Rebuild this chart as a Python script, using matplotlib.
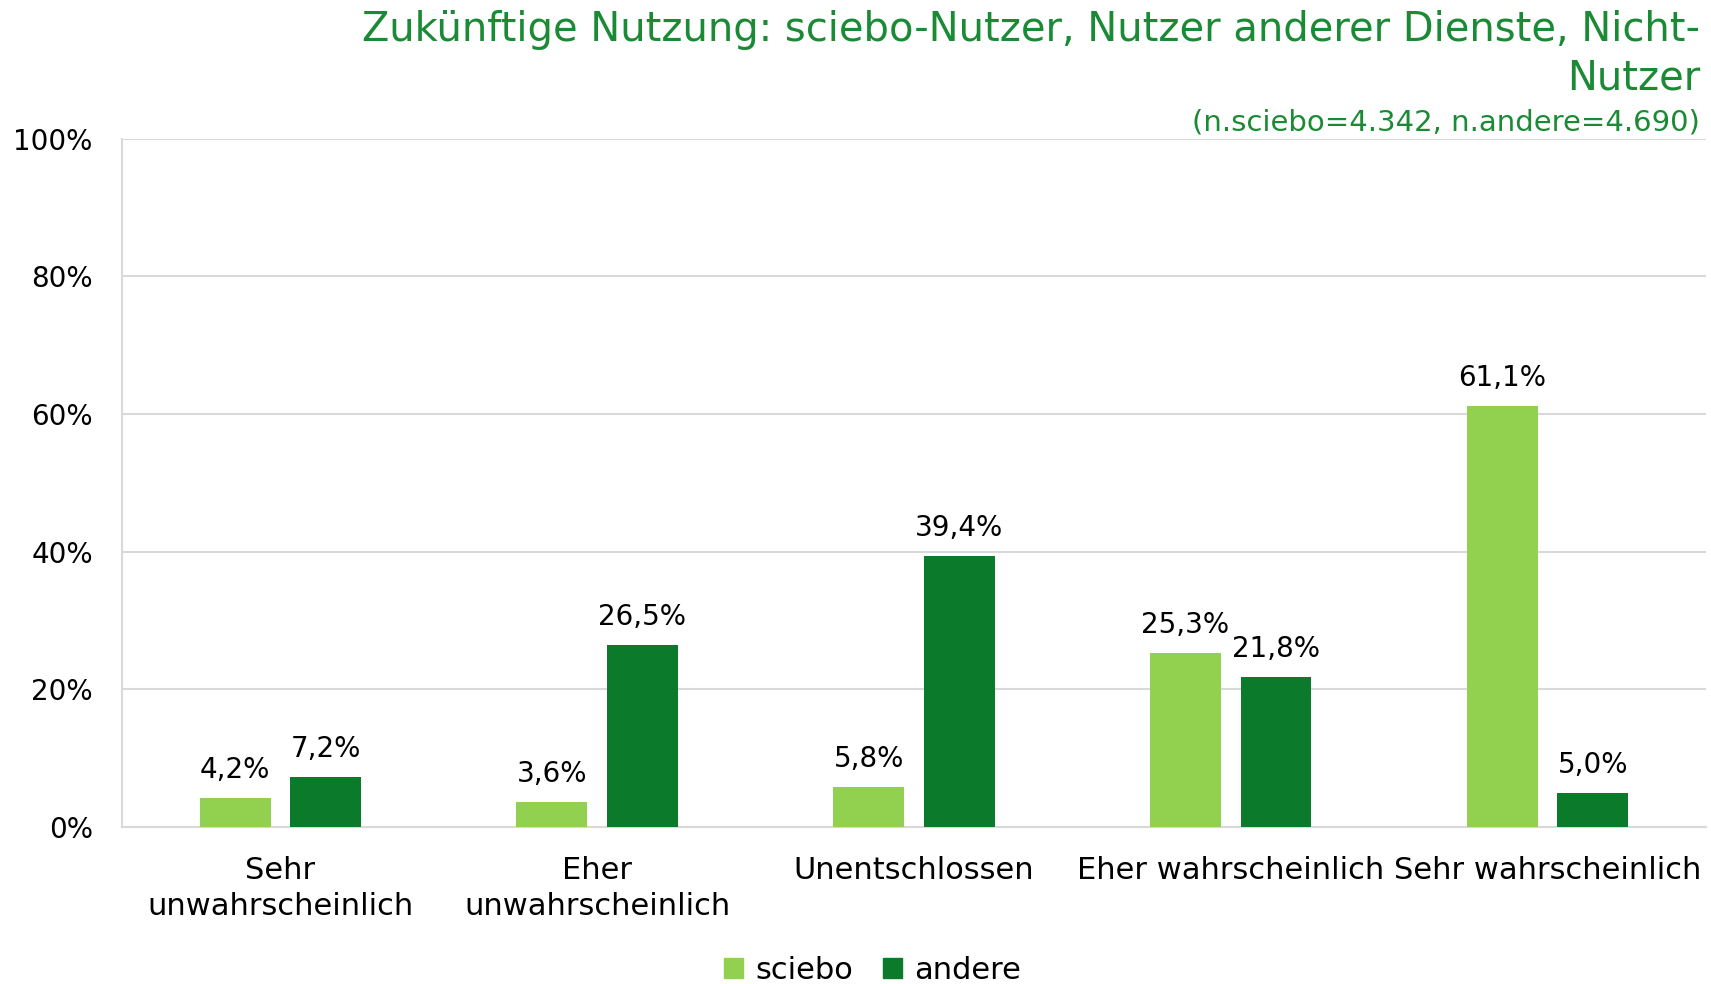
import matplotlib
matplotlib.use("Agg")
import matplotlib.pyplot as plt
import numpy as np
from matplotlib.patches import Patch

categories = ["Sehr\nunwahrscheinlich", "Eher\nunwahrscheinlich", "Unentschlossen",
              "Eher wahrscheinlich", "Sehr wahrscheinlich"]
sciebo = [4.2, 3.6, 5.8, 25.3, 61.1]
andere = [7.2, 26.5, 39.4, 21.8, 5.0]
series_names = ["sciebo", "andere"]
yticks = [0, 20, 40, 60, 80, 100]

c_light = "#92D050"
c_dark = "#0B7A2B"
c_title = "#1A8A35"
grid_c = "#D9D9D9"

plt.rcParams['font.family'] = ['DejaVu Sans']

fig = plt.figure(figsize=(17.11, 9.84), dpi=100)
ax = fig.add_axes([0.0713, 0.1596, 0.9257, 0.6996])

x = np.arange(len(categories))
w = 0.224
off = 0.143
b1 = ax.bar(x - off, sciebo, w, color=c_light, zorder=3)
b2 = ax.bar(x + off, andere, w, color=c_dark, zorder=3)

def fmt(v):
    return f"{v:.1f}".replace(".", ",") + "%"

for bars, vals in ((b1, sciebo), (b2, andere)):
    for r, v in zip(bars, vals):
        ax.annotate(fmt(v), (r.get_x() + r.get_width() / 2, v), xytext=(0, 10),
                    textcoords="offset points", ha="center", va="bottom",
                    fontsize=20, color="#000000")

ax.set_xlim(-0.5, len(categories) - 0.5)
ax.set_ylim(0, 100)
ax.set_yticks(yticks)
ax.set_yticklabels([f"{t}%" for t in yticks], fontsize=20)
ax.set_xticks(x)
ax.set_xticklabels(categories, fontsize=22, linespacing=1.3)
ax.tick_params(axis="both", length=0)
ax.tick_params(axis="y", pad=21)
ax.tick_params(axis="x", pad=21)
ax.grid(axis="y", color=grid_c, linewidth=1.5, zorder=0)
for s in ["top", "right"]:
    ax.spines[s].set_visible(False)
for s in ["left", "bottom"]:
    ax.spines[s].set_color(grid_c)
    ax.spines[s].set_linewidth(1.5)

fig.text(0.9937, 1 - 30 / 984, "Zukünftige Nutzung: sciebo-Nutzer, Nutzer anderer Dienste, Nicht-",
         ha="right", va="center", fontsize=28.8, color=c_title)
fig.text(0.9937, 1 - 79 / 984, "Nutzer", ha="right", va="center", fontsize=28.8, color=c_title)
fig.text(0.9937, 1 - 122 / 984, "(n.sciebo=4.342, n.andere=4.690)", ha="right", va="center",
         fontsize=21, color=c_title)

handles = [Patch(color=c_light), Patch(color=c_dark)]
fig.legend(handles, series_names, loc="center", bbox_to_anchor=(0.51, 0.014), ncol=2,
           frameon=False, fontsize=22, handlelength=0.6, handleheight=0.6,
           handletextpad=0.4, columnspacing=1.0)

fig.savefig("out.png", dpi=100)
